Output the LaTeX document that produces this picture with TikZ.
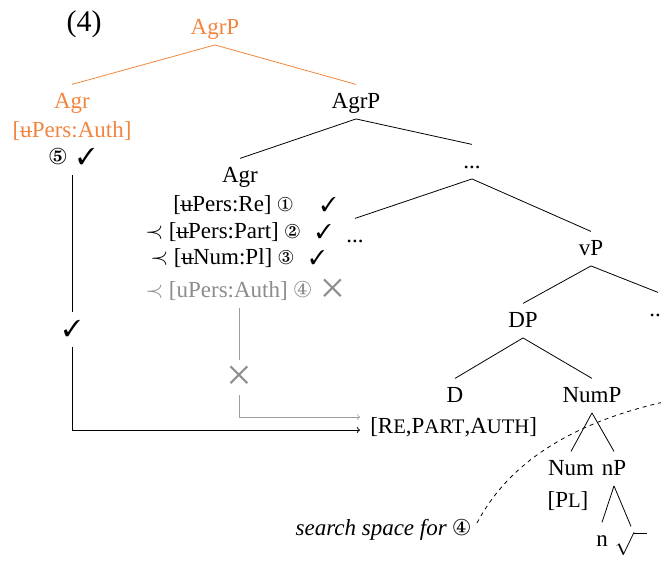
\documentclass[tikz,border=0pt]{standalone}
\usepackage{fontspec}
\setmainfont{Liberation Serif}
\usepackage{pifont}
\usepackage{xcolor}
\usetikzlibrary{calc}

\definecolor{agrorange}{RGB}{242,133,62}
\definecolor{fadegray}{RGB}{140,140,140}

% struck-out u, faked small caps, dingbats
\newcommand{\ust}{\ooalign{u\cr\hidewidth\rule[0.21em]{0.56em}{0.055em}\hidewidth\cr}}
\newcommand{\fsc}[2]{#1{\fontsize{15.5pt}{16pt}\selectfont #2}}
\newcommand{\cnum}[1]{{\fontsize{15pt}{15pt}\selectfont\ding{#1}}}
\newcommand{\smchk}{{\fontsize{15pt}{15pt}\selectfont\ding{51}}}
\newcommand{\bigchk}{\ding{51}}
\newcommand{\nogo}{{\fontsize{20pt}{20pt}\selectfont\ding{53}}}

\tikzset{
  tn/.style={anchor=base, text height=12pt, text depth=2.5pt, inner xsep=0.75pt, inner ysep=5.5pt},
  br/.style={line width=0.6pt},
  gl/.style={color=fadegray!85, line width=0.6pt},
}

\begin{document}
\begin{tikzpicture}[x=0.75pt,y=0.75pt,yscale=-1,xscale=1, font=\fontsize{17.25pt}{20pt}\selectfont]
    \useasboundingbox (0,0) rectangle (661,562);

    % Text Node
    \draw (84,31) node [tn, font=\fontsize{22.5pt}{24pt}\selectfont] (ex) {(4)};
    % Text Node
    \draw (215,34) node [tn, agrorange] (top) {AgrP};
    \draw (72,108) node [tn, agrorange] (agrO) {Agr};
    \draw (72,137) node [tn, agrorange] (authO) {[\ust Pers:Auth]};
    \draw (72,164) node [tn] (fiveO) {\ding{176}\hspace{8pt}\bigchk};
    % Text Node
    \draw (356,108) node [tn] (agrp) {AgrP};
    \draw (240,182) node [tn] (agrB) {Agr};
    \draw (173,211) node [tn, anchor=base west, inner xsep=0pt] (rowA) {[\ust Pers:Re] \cnum{172}\hspace{21pt}\smchk};
    \draw (145,238) node [tn, anchor=base west, inner xsep=0pt] (rowB) {$\prec$ [\ust Pers:Part] \cnum{173}\hspace{12pt}\smchk};
    \draw (150,264) node [tn, anchor=base west, inner xsep=0pt] (rowC) {$\prec$ [\ust Num:Pl] \cnum{174}\hspace{12pt}\smchk};
    \draw (145,297) node [tn, anchor=base west, inner xsep=0pt, fadegray] (rowD) {$\prec$ [uPers:Auth] \ding{175}\hspace{8pt}\nogo};
    % Text Node
    \draw (472,168) node [tn] (dotsA) {...};
    \draw (355,242) node [tn] (dotsB) {...};
    \draw (591,255) node [tn] (vp) {vP};
    \draw (658,316) node [tn] (dotsC) {...};
    \draw (523,327) node [tn] (dp) {DP};
    \draw (455,402) node [tn] (d) {D};
    \draw (592,402) node [tn] (nump) {NumP};
    \draw (571,475) node [tn] (num) {Num};
    \draw (568,507) node [tn] (pl) {[\fsc{P}{L}]};
    \draw (614,475) node [tn] (np) {nP};
    \draw (602,546) node [tn] (n) {n};
    \draw (631,550) node [tn] (root) {$\sqrt{\phantom{x}}$};
    % Text Node
    \draw (72,336) node [tn] (okL) {\bigchk};
    \draw (239,384) node [tn, fadegray] (gx) {\nogo};
    \draw (360,433) node [tn, anchor=base west, inner xsep=7.5pt] (feat) {[\fsc{R}{E},\fsc{P}{ART},\fsc{A}{UTH}]};
    \draw (472,535) node [tn, anchor=base east] (search) {\textit{search space for} \ding{175}};

    %Straight Lines
    \draw [br, agrorange] (top.south) -- (agrO.north);
    \draw [br, agrorange] (top.south) -- (agrp.north);
    \draw [br] (agrp.south) -- (agrB.north);
    \draw [br] (agrp.south) -- (dotsA.north);
    \draw [br] (dotsA.south) -- (dotsB.north);
    \draw [br] (dotsA.south) -- (vp.north);
    \draw [br] (vp.south) -- (dp.north);
    \draw [br] (vp.south) -- (dotsC.north);
    \draw [br] (dp.south) -- (d.north);
    \draw [br] (dp.south) -- (nump.north);
    \draw [br] (nump.south) -- (num.north);
    \draw [br] (nump.south) -- (np.north);
    \draw [br] (np.south) -- (n.north);
    \draw [br] (np.south) -- (root.north);

    %Agree paths
    \draw [line width=0.7pt] (fiveO.south) -- (okL.north);
    \draw [->, line width=0.7pt] (okL.south) |- ($(feat.base west)+(0,-3)$);
    \draw [gl] (gx.north |- rowD.south) -- (gx.north);
    \draw [gl, ->] (gx.south) |- ($(feat.base west)+(0,-16)$);

    %Curve Lines
    \coordinate (sstart) at (477,523);
    \draw [dashed, line width=0.6pt] (sstart) .. controls (505,470) and (560,425) .. (668,401);

\end{tikzpicture}
\end{document}
